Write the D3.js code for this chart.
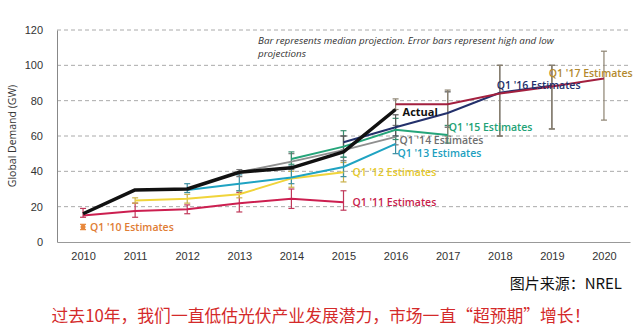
<!DOCTYPE html>
<html>
<head>
<meta charset="utf-8">
<script src="https://cdn.jsdelivr.net/npm/d3@7"></script>
<style>
  body { margin: 0; background: #fff; }
  svg text { font-family: "Open Sans", "Noto Sans", sans-serif; }
</style>
</head>
<body>
<div id="chart"></div>
<script>
// years on the x axis
const years = [2010, 2011, 2012, 2013, 2014, 2015, 2016, 2017, 2018, 2019, 2020]
const yTicks = [0, 20, 40, 60, 80, 100, 120]

// actual demand (GW)
const actualYears = [2010, 2011, 2012, 2013, 2014, 2015, 2016]
const actualValues = [16, 29.5, 30, 39.5, 42, 51, 75]

// each estimate series: years, median values, low and high
const q10Years = [2010]
const q10Values = [8.5]
const q10Low = [7]
const q10High = [10]

const q11Years = [2010, 2011, 2012, 2013, 2014, 2015]
const q11Values = [15, 17.5, 18.5, 22, 24.5, 22.5]
const q11Low = [14, 14, 16, 17, 19, 18]
const q11High = [19, 22, 21, 28, 30, 29]

const q12Years = [2011, 2012, 2013, 2014, 2015]
const q12Values = [23.5, 24.5, 27, 36, 39.5]
const q12Low = [22, 22, 25, 31, 34]
const q12High = [25, 27, 29, 40, 45]

const q13Years = [2012, 2013, 2014, 2015, 2016]
const q13Values = [29.5, 33, 36.5, 42.5, 55.5]
const q13Low = [28, 29, 33, 37, 50]
const q13High = [33, 38, 43, 48, 60]

const q14Years = [2013, 2014, 2015, 2016]
const q14Values = [39.5, 45.5, 52, 59.5]
const q14Low = [37, 41, 46, 55]
const q14High = [41, 50, 60, 66]

const q15Years = [2014, 2015, 2016, 2017]
const q15Values = [47, 54, 63.5, 60.5]
const q15Low = [44, 48, 58, 56]
const q15High = [51, 63, 70, 66]

const q16Years = [2015, 2016, 2017, 2018, 2019]
const q16Values = [56.5, 65, 73, 84.5, 88.5]
const q16Low = [52, 60, 65, 60, 64]
const q16High = [60, 72, 85, 100, 100]

const q17Years = [2016, 2017, 2018, 2019, 2020]
const q17Values = [78, 78, 84, 88, 92.5]
const q17Low = [75, 60, 60, 64, 69]
const q17High = [81, 86, 100, 100, 108]

const seriesNames = ["Q1 '10 Estimates", "Q1 '11 Estimates", "Q1 '12 Estimates", "Q1 '13 Estimates",
  "Q1 '14 Estimates", "Q1 '15 Estimates", "Q1 '16 Estimates", "Q1 '17 Estimates"]

const noteLines = ["Bar represents median projection. Error bars represent high and low", "projections"]
const sourceText = "图片来源：NREL"
const captionText = "过去10年，我们一直低估光伏产业发展潜力，市场一直“超预期”增长！"

//build the series table
const series = [
  {years: q10Years, values: q10Values, low: q10Low, high: q10High, line: "#e8873a", label: "#e07d35", bar: "#e8873a", lx: [2010, 7], ly: 8.2},
  {years: q11Years, values: q11Values, low: q11Low, high: q11High, line: "#cc1f50", label: "#c81d4c", bar: "#c0395a", lx: [2015, 9], ly: 22.5},
  {years: q12Years, values: q12Values, low: q12Low, high: q12High, line: "#f0d43a", label: "#e6c92e", bar: "#c9b04a", lx: [2015, 9], ly: 39.5},
  {years: q13Years, values: q13Values, low: q13Low, high: q13High, line: "#1fa3c2", label: "#1d9fbf", bar: "#3a8ea0", lx: [2016, 2], ly: 50},
  {years: q14Years, values: q14Values, low: q14Low, high: q14High, line: "#8f8f8f", label: "#6f6f6f", bar: "#777", lx: [2016, 4], ly: 57.5},
  {years: q15Years, values: q15Values, low: q15Low, high: q15High, line: "#25a57a", label: "#22a276", bar: "#3a8f70", lx: [2017, 1], ly: 65},
  {years: q16Years, values: q16Values, low: q16Low, high: q16High, line: "#23306b", label: "#23306b", bar: "#555", lx: [2018, -3], ly: 88.5},
  {years: q17Years, values: q17Values, low: q17Low, high: q17High, line: "#a3203f", label: "#b38a2e", bar: "#8c8270", lx: [2019, -3], ly: 95.5}
]

const W = 640, H = 336
const plot = {left: 57, right: 630, top: 30, bottom: 242}

const svg = d3.select("#chart").append("svg")
  .attr("width", W)
  .attr("height", H)

const xScale = d3.scalePoint()
  .domain(years)
  .range([plot.left, plot.right])
  .padding(0.5)

const yScale = d3.scaleLinear()
  .domain([0, 120])
  .range([plot.bottom, plot.top])

//dashed gridlines
svg.append("g").selectAll("line")
  .data(yTicks.filter(d => d > 0))
  .enter().append("line")
  .attr("x1", plot.left).attr("x2", plot.right)
  .attr("y1", d => yScale(d)).attr("y2", d => yScale(d))
  .attr("stroke", "#aaa")
  .attr("stroke-width", 1)
  .attr("stroke-dasharray", "4,3")

//axes
const yAxis = svg.append("g")
  .attr("transform", "translate(" + plot.left + ",0)")
  .call(d3.axisLeft(yScale).tickValues(yTicks).tickSize(0).tickPadding(14))
yAxis.select(".domain").attr("stroke", "#888")
yAxis.selectAll("text").attr("font-size", 11).attr("fill", "#333")
  .style("font-family", "'Liberation Sans', sans-serif")

const xAxis = svg.append("g")
  .attr("transform", "translate(0," + plot.bottom + ")")
  .call(d3.axisBottom(xScale).tickSize(0).tickPadding(10))
xAxis.select(".domain").attr("stroke", "#999").attr("stroke-width", 1.2)
xAxis.selectAll("text").attr("font-size", 11).attr("fill", "#333")
  .style("font-family", "'Liberation Sans', sans-serif")

svg.append("text")
  .attr("transform", "translate(16," + ((plot.top + plot.bottom) / 2) + ") rotate(-90)")
  .attr("text-anchor", "middle")
  .attr("font-size", 10.5)
  .attr("fill", "#333")
  .text("Global Demand (GW)")

//error bars
series.forEach(s => {
  const g = svg.append("g")
  s.years.forEach((yr, i) => {
    const x = xScale(yr)
    g.append("line").attr("x1", x).attr("x2", x)
      .attr("y1", yScale(s.low[i])).attr("y2", yScale(s.high[i]))
      .attr("stroke", s.bar).attr("stroke-width", 1.2)
    ;[s.low[i], s.high[i]].forEach(v => {
      g.append("line").attr("x1", x - 3).attr("x2", x + 3)
        .attr("y1", yScale(v)).attr("y2", yScale(v))
        .attr("stroke", s.bar).attr("stroke-width", 1.2)
    })
  })
})

const line = d3.line()
  .x(d => xScale(d[0]))
  .y(d => yScale(d[1]))

//estimate lines
series.forEach(s => {
  const pts = s.years.map((yr, i) => [yr, s.values[i]])
  if (pts.length > 1) {
    svg.append("path")
      .datum(pts)
      .attr("d", line)
      .attr("fill", "none")
      .attr("stroke", s.line)
      .attr("stroke-width", 2)
  } else {
    svg.append("circle")
      .attr("cx", xScale(pts[0][0])).attr("cy", yScale(pts[0][1]))
      .attr("r", 2.5).attr("fill", s.line)
  }
})

//actual line on top
svg.append("path")
  .datum(actualYears.map((yr, i) => [yr, actualValues[i]]))
  .attr("d", line)
  .attr("fill", "none")
  .attr("stroke", "#111")
  .attr("stroke-width", 3.5)
  .attr("stroke-linejoin", "round")

//series labels
series.forEach((s, i) => {
  svg.append("text")
    .attr("x", xScale(s.lx[0]) + s.lx[1])
    .attr("y", yScale(s.ly))
    .attr("dy", "0.35em")
    .attr("font-size", 10.5)
    .attr("font-weight", 600)
    .attr("fill", s.label)
    .text(seriesNames[i])
})

svg.append("text")
  .attr("x", xScale(2016) + 7)
  .attr("y", yScale(73.5))
  .attr("dy", "0.35em")
  .attr("font-size", 11)
  .attr("font-weight", 700)
  .attr("fill", "#111")
  .text("Actual")

//note
noteLines.forEach((t, i) => {
  svg.append("text")
    .attr("x", 258)
    .attr("y", 44 + i * 13)
    .attr("font-size", 9.8)
    .attr("font-style", "italic")
    .attr("fill", "#333")
    .text(t)
})

svg.append("text")
  .attr("x", 622).attr("y", 289)
  .attr("text-anchor", "end")
  .attr("font-size", 15)
  .attr("fill", "#111")
  .style("font-family", "'Noto Sans CJK SC', sans-serif")
  .text(sourceText)

svg.append("text")
  .attr("x", 321).attr("y", 322)
  .attr("text-anchor", "middle")
  .attr("font-size", 16.8)
  .attr("fill", "#d42a2a")
  .style("font-family", "'Noto Sans CJK SC', sans-serif")
  .text(captionText)
</script>
</body>
</html>
